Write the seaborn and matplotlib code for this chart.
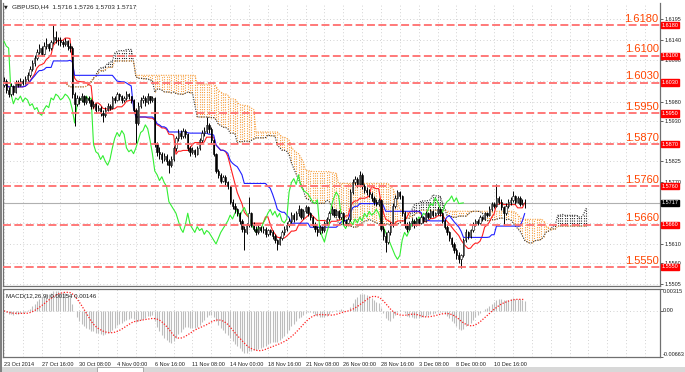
import numpy as np
import pandas as pd
import matplotlib
matplotlib.use("Agg")
import matplotlib.pyplot as plt
import seaborn as sns
from matplotlib.patches import Rectangle

sns.set_style("white")
plt.rcParams["font.family"] = ["Liberation Sans", "DejaVu Sans"]

W, H = 685, 372

# GBPUSD H4 bars, values in 1/10000 above 1.0000 (6035 -> 1.6035)
first_open = 6025
close = [6035, 6010, 6000, 6020, 6005,
         6030, 6025, 6035, 6030, 6040,
         6050, 6065, 6080, 6095,
         6110, 6120, 6105, 6125, 6130, 6120, 6135,
         6150, 6140,
         6140, 6135, 6130, 6138, 6125, 6120,
         6000,
         5975, 5990, 5985, 5995, 5980, 5990,
         5985, 5970, 5975, 5960, 5965, 5950, 5945,
         5960, 5970, 5965,
         5990, 5985, 6000, 5995, 5985, 5990, 6000, 5995, 5985,
         5960, 5925,
         5970, 5985, 5990, 5980, 5995, 5985, 5990,
         5870, 5850,
         5845, 5830, 5840, 5825, 5815, 5830,
         5860, 5885, 5900, 5890, 5905, 5895,
         5860, 5850, 5855, 5845, 5860,
         5880, 5900, 5905, 5920, 5910,
         5880, 5845,
         5800, 5790, 5775, 5785, 5770, 5760,
         5720, 5710, 5700, 5690,
         5670, 5650, 5640, 5660, 5690,
         5660, 5650, 5640, 5655, 5645, 5650, 5635, 5645, 5640,
         5630, 5620, 5610, 5625, 5640, 5650,
         5660, 5670, 5685, 5675, 5690, 5700, 5680, 5695, 5705, 5690, 5680,
         5660, 5650, 5640, 5655, 5645, 5665, 5675,
         5690, 5700, 5685, 5695, 5680, 5690,
         5670, 5665, 5675,
         5745, 5770, 5780, 5765, 5790,
         5760, 5750, 5745, 5740,
         5730, 5720, 5715, 5725,
         5650, 5630, 5615, 5640, 5660,
         5710, 5730, 5745, 5735,
         5690, 5660, 5650, 5665,
         5670, 5660, 5675, 5665, 5680, 5670,
         5690, 5680, 5695, 5685, 5690, 5700, 5690,
         5670, 5655, 5640, 5625,
         5610, 5595, 5580, 5570,
         5580, 5620, 5640, 5630, 5645,
         5660, 5670, 5665, 5680, 5675, 5690, 5685,
         5700, 5715, 5710, 5730,
         5720, 5705, 5690, 5710, 5720,
         5725, 5735, 5720, 5730, 5715, 5716, 5717]
high = [6045, 6040, 6018, 6028, 6025,
        6036, 6038, 6042, 6040, 6048,
        6058, 6072, 6088, 6102,
        6118, 6130, 6125, 6135, 6146, 6134, 6142,
        6180, 6165,
        6150, 6148, 6142, 6146, 6140, 6132,
        6125,
        6005, 5998, 5996, 6002, 5998, 5996,
        5995, 5988, 5982, 5978, 5972, 5968, 5958,
        5966, 5976, 5974,
        5996, 5994, 6006, 6004, 5998, 5996, 6008, 6004, 5996,
        5988, 5965,
        5980, 5992, 5998, 5994, 6002, 5996, 5996,
        5992, 5876,
        5862, 5850, 5848, 5845, 5832, 5838,
        5866, 5892, 5908, 5906, 5912, 5908,
        5898, 5866, 5862, 5858, 5864,
        5886, 5906, 5915, 5940, 5925,
        5915, 5884,
        5848, 5806, 5796, 5790, 5790, 5775,
        5762, 5726, 5716, 5704,
        5692, 5676, 5656, 5664, 5733,
        5694, 5668, 5656, 5660, 5658, 5656, 5654, 5650, 5650,
        5645, 5636, 5624, 5630, 5646, 5656,
        5666, 5678, 5692, 5690, 5696, 5712, 5704, 5700, 5712, 5708, 5694,
        5684, 5666, 5656, 5660, 5658, 5670, 5680,
        5696, 5708, 5702, 5700, 5698, 5694,
        5692, 5676, 5680,
        5752, 5778, 5786, 5784, 5800,
        5794, 5766, 5758, 5752,
        5745, 5736, 5728, 5730,
        5726, 5658, 5640, 5646, 5666,
        5716, 5738, 5750, 5748,
        5738, 5696, 5666, 5670,
        5678, 5674, 5680, 5678, 5686, 5684,
        5696, 5694, 5700, 5698, 5694, 5706, 5704,
        5692, 5674, 5660, 5644,
        5628, 5614, 5600, 5588,
        5584, 5626, 5648, 5644, 5650,
        5666, 5676, 5674, 5686, 5684, 5694, 5694,
        5708, 5720, 5720, 5765,
        5736, 5726, 5710, 5716, 5728,
        5732, 5748, 5738, 5736, 5734, 5728, 5726]
low = [6018, 6002, 5993, 5996, 5998,
       6002, 6018, 6020, 6024, 6026,
       6035, 6045, 6060, 6074,
       6090, 6104, 6100, 6100, 6118, 6112, 6115,
       6130, 6132,
       6128, 6126, 6122, 6125, 6116, 6110,
       5990,
       5918, 5968, 5975, 5980, 5972, 5975,
       5978, 5962, 5965, 5952, 5955, 5942, 5928,
       5940, 5955, 5958,
       5962, 5978, 5982, 5986, 5978, 5980, 5986, 5988, 5976,
       5952, 5873,
       5920, 5965, 5978, 5970, 5974, 5978, 5980,
       5862, 5838,
       5832, 5822, 5826, 5815, 5795, 5810,
       5825, 5852, 5878, 5882, 5885, 5886,
       5852, 5840, 5845, 5836, 5842,
       5855, 5875, 5892, 5900, 5900,
       5872, 5838,
       5795, 5782, 5768, 5770, 5762, 5752,
       5715, 5700, 5690, 5682,
       5662, 5640, 5595, 5636, 5655,
       5655, 5644, 5632, 5636, 5640, 5638, 5628, 5630, 5632,
       5622, 5612, 5595, 5606, 5620, 5634,
       5644, 5655, 5665, 5668, 5672, 5684, 5676, 5676, 5690, 5684, 5672,
       5654, 5642, 5630, 5636, 5638, 5642, 5660,
       5670, 5686, 5680, 5682, 5674, 5676,
       5662, 5658, 5662,
       5670, 5740, 5764, 5758, 5762,
       5752, 5742, 5738, 5732,
       5722, 5712, 5708, 5710,
       5644, 5620, 5590, 5610, 5634,
       5655, 5704, 5726, 5728,
       5684, 5652, 5640, 5645,
       5658, 5652, 5656, 5660, 5662, 5664,
       5668, 5676, 5678, 5680, 5682, 5686, 5684,
       5664, 5648, 5632, 5618,
       5602, 5586, 5572, 5560,
       5548, 5576, 5614, 5624, 5626,
       5640, 5656, 5660, 5662, 5670, 5672, 5680,
       5682, 5696, 5704, 5706,
       5714, 5698, 5660, 5686, 5704,
       5712, 5718, 5714, 5716, 5710, 5712, 5703]

levels = [1.6180, 1.6100, 1.6030, 1.5950, 1.5870, 1.5760, 1.5660, 1.5550]
price_ticks = [1.6195, 1.6140, 1.6090, 1.6035, 1.5980, 1.5930, 1.5875,
               1.5825, 1.5770, 1.5665, 1.5610, 1.5560, 1.5505]
hidden_ticks = [1.6035, 1.5875, 1.5665]  # sit under the red level boxes
last_price = 1.5717
time_labels = ["23 Oct 2014", "27 Oct 16:00", "30 Oct 08:00", "4 Nov 00:00",
               "6 Nov 16:00", "11 Nov 08:00", "14 Nov 00:00", "18 Nov 16:00",
               "21 Nov 08:00", "26 Nov 00:00", "28 Nov 16:00", "3 Dec 08:00",
               "8 Dec 00:00", "10 Dec 16:00"]
macd_ticks = [0.00315, 0.0, -0.00663]

c = pd.Series(close) / 10000 + 1
h = pd.Series(high) / 10000 + 1
l = pd.Series(low) / 10000 + 1
o = c.shift(1).fillna(1 + first_open / 10000)
h = np.maximum(h, np.maximum(o, c))
l = np.minimum(l, np.minimum(o, c))
n = len(c)
x = np.arange(n)


# Ichimoku 9/26/52
def mid(p):
    return (h.rolling(p, min_periods=1).max() + l.rolling(p, min_periods=1).min()) / 2


tenkan = mid(9)
kijun = mid(26)
span_a = np.r_[np.full(26, np.nan), ((tenkan + kijun) / 2).values]
span_b = np.r_[np.full(26, np.nan), mid(52).values]
xs = np.arange(n + 26)

# MACD 12/26/9
macd = c.ewm(span=12, adjust=False).mean() - c.ewm(span=26, adjust=False).mean()
signal = macd.rolling(9, min_periods=1).mean()


def box(left, top, right, bottom):
    return [left / W, 1 - bottom / H, (right - left) / W, (bottom - top) / H]


fig = plt.figure(figsize=(W / 100, H / 100), dpi=100)
ax = fig.add_axes(box(3, 3, 660, 286))
axm = fig.add_axes(box(3, 289, 660, 357))
xlim = (-0.4, 278.4)
grid_kw = dict(color="#C4C4C4", lw=0.6, ls=(0, (1, 3)))
small = 4.0

# main panel
ax.set_xlim(*xlim)
ax.set_ylim(1.55005, 1.62373)
ax.set_xticks(np.arange(0, 279, 8))
ax.tick_params(axis="x", length=0, labelbottom=False)
ax.yaxis.tick_right()
ax.set_yticks(price_ticks)
ax.set_yticklabels(["" if t in hidden_ticks else f"{t:.4f}" for t in price_ticks])
ax.tick_params(axis="y", length=2, width=0.5, pad=1, labelsize=small, colors="#202020")
ax.grid(True, **grid_kw)

# cloud as dotted histogram
ok = ~np.isnan(span_a)
lo = np.minimum(span_a, span_b)[ok]
hi = np.maximum(span_a, span_b)[ok]
cols = np.where(span_a[ok] >= span_b[ok], "#303030", "#F7A040")
ax.vlines(xs[ok], lo, hi, colors=cols, lw=0.8, linestyles=(0, (1, 1.2)), zorder=2)
ax.plot(xs[ok], span_a[ok], color="#303030", lw=0.8, ls=(0, (1, 1.2)), zorder=2)
ax.plot(xs[ok], span_b[ok], color="#F7A040", lw=0.8, ls=(0, (1, 1.2)), zorder=2)

sns.lineplot(x=x, y=tenkan.values, ax=ax, color="#FF2020", lw=0.8, zorder=3)
sns.lineplot(x=x, y=kijun.values, ax=ax, color="#2020FF", lw=0.8, zorder=3)
sns.lineplot(x=x[:-26], y=c.values[26:], ax=ax, color="#33EE33", lw=0.8, zorder=3)

# candles
ax.vlines(x, l, h, color="black", lw=0.7, zorder=4)
bull = (c >= o).values
ax.bar(x, (c - o).values, bottom=o.values, width=0.55,
       color=np.where(bull, "white", "black"), edgecolor="black", lw=0.4, zorder=5)

ax.axhline(last_price, color="#B0B0B0", lw=0.8, zorder=1)

box_kw = dict(transform=ax.get_yaxis_transform(), ha="left", va="center",
              fontsize=small, color="white", clip_on=False, zorder=10)
for lv in levels:
    ax.axhline(lv, color="#FF6E6E", lw=1.3, ls=(0, (4.4, 1.9)), zorder=6)
    ax.annotate(f"{lv:.4f}", xy=(1, lv), xycoords=("axes fraction", "data"),
                xytext=(-1, 2.5), textcoords="offset points", ha="right", va="baseline",
                fontsize=8, color="#FF4500", zorder=7)
    ax.text(1.002, lv, f"{lv:.4f}", **box_kw,
            bbox=dict(boxstyle="square,pad=0.12", fc="#FF0000", ec="#FF0000"))
ax.text(1.002, last_price, f"{last_price:.4f}", **box_kw,
        bbox=dict(boxstyle="square,pad=0.12", fc="black", ec="black"))

for s in ["left", "right", "bottom"]:
    ax.spines[s].set_color("#707070")
    ax.spines[s].set_linewidth(0.9)
ax.spines["top"].set_visible(False)

# MACD panel
axm.set_xlim(*xlim)
axm.set_ylim(-0.00663, 0.00315)
axm.vlines(x, 0, macd.values, color="#BDBDBD", lw=0.8)
axm.plot(x, signal.values, color="#FF2020", lw=0.9, ls=(0, (1, 1.3)))
ticks = np.arange(0, 279, 8)
axm.set_xticks(ticks)
axm.set_xticklabels([time_labels[t // 16] if t % 16 == 0 and t // 16 < len(time_labels) else ""
                     for t in ticks], ha="left")
axm.tick_params(axis="x", length=2, width=0.5, pad=1.5, labelsize=small, colors="#202020")
axm.yaxis.tick_right()
axm.set_yticks(macd_ticks)
axm.set_yticklabels([])
axm.tick_params(axis="y", length=2, width=0.5)
for val, txt, va in zip(macd_ticks, ["0.00315", "0.00", "-0.00663"], ["top", "center", "bottom"]):
    axm.text(1.004, val, txt, transform=axm.get_yaxis_transform(), ha="left", va=va,
             fontsize=small, color="#202020", clip_on=False)
axm.grid(True, **grid_kw)
for s in axm.spines.values():
    s.set_color("#707070")
    s.set_linewidth(0.9)
axm.text(0.004, 0.93, "MACD(12,26,9) 0.00154 0.00146", transform=axm.transAxes,
         ha="left", va="top", fontsize=4.4, color="#202020")

fig.text(12 / W, 1 - 6.5 / H, "GBPUSD,H4  1.5716 1.5726 1.5703 1.5717", ha="left",
         va="center", fontsize=4.6, color="#202020")
fig.text(4 / W, 1 - 6.5 / H, "\u25BC", ha="left", va="center", fontsize=3.5,
         color="#202020", family="DejaVu Sans")

# window frame and bottom tab strip
fig.patches.append(Rectangle((0, 0), 1, 5 / H, transform=fig.transFigure,
                             fc="#D8D8D8", ec="none", zorder=0))
fig.patches.append(Rectangle((97 / W, 0), 46 / W, 5 / H, transform=fig.transFigure,
                             fc="white", ec="#909090", lw=0.5, zorder=0))
fig.patches.append(Rectangle((0, 0), 1.6 / W, 1, transform=fig.transFigure,
                             fc="#808080", ec="none", zorder=0))

fig.savefig("out.png", dpi=100)
